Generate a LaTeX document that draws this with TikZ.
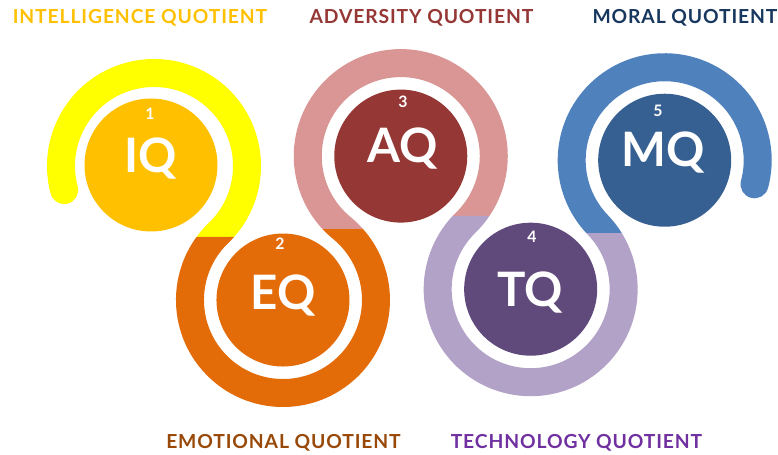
\documentclass[tikz,border=0pt]{standalone}
\usepackage{fontspec}
\setmainfont{Lato}
\usetikzlibrary{calc}
\definecolor{iqyellow}{RGB}{255,255,0}
\definecolor{iqgold}{RGB}{255,192,0}
\definecolor{eqorange}{RGB}{227,108,9}
\definecolor{eqbrown}{RGB}{152,72,7}
\definecolor{aqpink}{RGB}{217,150,148}
\definecolor{aqred}{RGB}{149,55,53}
\definecolor{tqlilac}{RGB}{179,162,199}
\definecolor{tqplum}{RGB}{96,74,123}
\definecolor{tqpurple}{RGB}{112,48,160}
\definecolor{mqblue}{RGB}{79,129,189}
\definecolor{mqnavy}{RGB}{55,96,146}
\definecolor{mqdark}{RGB}{23,55,94}

\begin{document}
\begin{tikzpicture}

		\def\rad{1.86}

		\tikzset{
		    ribbon/.style={line width=0.56cm, line cap=round, draw=#1},
		    bigtag/.style={anchor=base, inner sep=0pt, text=white, font=\fontsize{27}{30}\selectfont\bfseries},
		    numtag/.style={anchor=base, inner sep=0pt, text=white, font=\fontsize{9}{10}\selectfont\bfseries},
		    headline/.style={anchor=base, inner sep=0pt, text=#1, font=\fontsize{11}{12}\selectfont\bfseries\addfontfeature{LetterSpace=4.5}},
		    snake path/.style={
		        insert path={++(195:\rad) arc[start angle=195, end angle=-46.1, radius=\rad]
		            arc[start angle=133.9, end angle=410.7, radius=\rad]
		            arc[start angle=230.7, end angle=-45.7, radius=\rad]
		            arc[start angle=134.3, end angle=403.9, radius=\rad]
		            arc[start angle=223.9, end angle=-15, radius=\rad]}
		    }
		}

		\useasboundingbox (0,0) rectangle (15.56,9.1);

		% centres, each ring touches the next one
		\coordinate (iq) at (3.08,5.78);
		\coordinate (eq) at ($(iq)+(-46.1:3.72)$);
		\coordinate (aq) at ($(eq)+(50.7:3.72)$);
		\coordinate (tq) at ($(aq)+(-45.7:3.72)$);
		\coordinate (mq) at ($(tq)+(43.9:3.72)$);

		% the ribbon, one colour per clip

		\begin{scope}
			\clip (0,4.36) rectangle (5.5,9.1);
			\draw[ribbon=iqyellow] (iq) [snake path];
		\end{scope}

		\begin{scope}
			\clip (3.2,4.36) -- (5.66,4.36) -- (5.66,4.52) -- (8,4.52) -- (8,0) -- (3.2,0) -- cycle;
			\draw[ribbon=eqorange] (iq) [snake path];
		\end{scope}

		\begin{scope}
			\clip (5.7,4.52) -- (8,4.52) -- (8,4.78) -- (10.4,4.78) -- (10.4,9.1) -- (5.7,9.1) -- cycle;
			\draw[ribbon=aqpink] (iq) [snake path];
		\end{scope}

		\begin{scope}
			\clip (8,4.78) -- (10.62,4.78) -- (10.62,4.44) -- (13.2,4.44) -- (13.2,0) -- (8,0) -- cycle;
			\draw[ribbon=tqlilac] (iq) [snake path];
		\end{scope}

		\begin{scope}
			\clip (10.62,4.44) rectangle (15.56,9.1);
			\draw[ribbon=mqblue] (iq) [snake path];
		\end{scope}

		% discs

		\fill[iqgold] (iq) ++(-0.06,0.02) circle (1.33cm);
		\fill[eqorange] (eq) circle (1.33cm);
		\fill[aqred] (aq) circle (1.33cm);
		\fill[tqplum] (tq) circle (1.33cm);
		\fill[mqnavy] (mq) circle (1.33cm);

		% markings and text

		\node[numtag] (iqnum) at (3.0,6.70) {1};
		\node[numtag] (eqnum) at (5.6,4.10) {2};
		\node[numtag] (aqnum) at (8.06,6.94) {3};
		\node[numtag] (tqnum) at (10.64,4.24) {4};
		\node[numtag] (mqnum) at (13.16,6.76) {5};

		\node[bigtag] (iqtag) at (3.02,5.64) {IQ};
		\node[bigtag] (eqtag) at (5.66,2.90) {EQ};
		\node[bigtag] (aqtag) at (8.05,5.84) {AQ};
		\node[bigtag] (tqtag) at (10.6,2.96) {TQ};
		\node[bigtag] (mqtag) at (13.27,5.76) {MQ};

		\node[headline=iqgold] (iqhead) at (2.80,8.62) {INTELLIGENCE QUOTIENT};
		\node[headline=aqred] (aqhead) at (8.43,8.62) {ADVERSITY QUOTIENT};
		\node[headline=mqdark] (mqhead) at (13.70,8.62) {MORAL QUOTIENT};
		\node[headline=eqbrown] (eqhead) at (5.67,0.12) {EMOTIONAL QUOTIENT};
		\node[headline=tqpurple] (tqhead) at (11.53,0.12) {TECHNOLOGY QUOTIENT};

\end{tikzpicture}
\end{document}
